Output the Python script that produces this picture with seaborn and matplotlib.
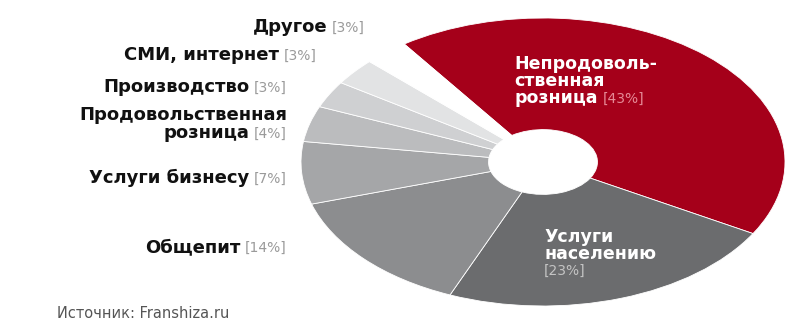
import matplotlib
matplotlib.use("Agg")
import matplotlib.pyplot as plt
import seaborn as sns

# ---- data ----
categories = ["Непродовольственная розница", "Услуги населению", "Общепит",
              "Услуги бизнесу", "Продовольственная розница", "Производство",
              "СМИ, интернет", "Другое"]
shares = [43, 23, 14, 7, 4, 3, 3, 3]
colors = ["#a5001a", "#6b6c6e", "#8c8d8f", "#a5a6a8", "#bbbcbe", "#cfd0d2",
          "#e2e3e4", "#ffffff"]
# display text (line breaks as printed)
label_lines = {
    "Непродовольственная розница": ["Непродоволь-", "ственная", "розница"],
    "Услуги населению": ["Услуги", "населению"],
    "Общепит": ["Общепит"],
    "Услуги бизнесу": ["Услуги бизнесу"],
    "Продовольственная розница": ["Продовольственная", "розница"],
    "Производство": ["Производство"],
    "СМИ, интернет": ["СМИ, интернет"],
    "Другое": ["Другое"],
}
source_text = "Источник: Franshiza.ru"

sns.set_theme(style="white")
plt.rcParams['font.family'] = ['DejaVu Sans']

W, H = 789, 322
fig = plt.figure(figsize=(W / 100, H / 100), dpi=100)
fig.patch.set_facecolor("white")

cx, cy, rx, ry = 543, 162, 242, 144
pad = 1.03
ax = fig.add_axes([(cx - rx * pad) / W, 1 - (cy + ry * pad) / H,
                   2 * rx * pad / W, 2 * ry * pad / H])
ax.pie(shares, colors=colors, startangle=125, counterclock=False, radius=1,
       wedgeprops=dict(width=0.775, edgecolor="white", linewidth=0.6))
ax.set_aspect("auto")
ax.set_xlim(-pad, pad)
ax.set_ylim(-pad, pad)
ax.axis("off")


def fx(x):
    return x / W


def fy(y):
    return 1 - y / H


fig.canvas.draw()
renderer = fig.canvas.get_renderer()

# ---- outer labels (right-aligned) ----
outer = {  # category: (right edge px, last-line baseline px)
    "Другое": (365, 32),
    "СМИ, интернет": (317, 60),
    "Производство": (287, 92),
    "Продовольственная розница": (287, 138),
    "Услуги бизнесу": (287, 183),
    "Общепит": (287, 252),
}
bold_kw = dict(fontsize=13, fontweight="black", color="#111111")
pct_kw = dict(fontsize=10, color="#9a9a9a")
outer_step = 18
for cat, (xr, yb) in outer.items():
    val = shares[categories.index(cat)]
    pt = fig.text(fx(xr), fy(yb), f"[{val}%]", ha="right", va="baseline",
                  **pct_kw)
    wpx = pt.get_window_extent(renderer).width
    lines = label_lines[cat]
    n = len(lines)
    for i, ln in enumerate(lines):
        y = yb - (n - 1 - i) * outer_step
        xa = xr - wpx - 5 if i == n - 1 else xr
        fig.text(fx(xa), fy(y), ln, ha="right", va="baseline", **bold_kw)

# ---- inner labels ----
in_kw = dict(fontsize=12.5, fontweight="bold", color="white")
# Non-food retail (red)
lines = label_lines["Непродовольственная розница"]
x0, yb, step = 514, 103, 17
for i, ln in enumerate(lines):
    t = fig.text(fx(x0), fy(yb - (len(lines) - 1 - i) * step), ln,
                 ha="left", va="baseline", **in_kw)
wl = t.get_window_extent(renderer).width
fig.text(fx(x0 + wl + 5), fy(yb), f"[{shares[0]}%]", ha="left",
         va="baseline", fontsize=10, color="#e58a96")

# Services to population (dark gray)
lines = label_lines["Услуги населению"]
x0, yb = 544, 259
for i, ln in enumerate(lines):
    fig.text(fx(x0), fy(yb - (len(lines) - 1 - i) * step), ln,
             ha="left", va="baseline", **in_kw)
fig.text(fx(x0), fy(yb + 16), f"[{shares[1]}%]", ha="left", va="baseline",
         fontsize=10, color="#c4c4c4")

# source
fig.text(fx(57), fy(313), source_text, ha="left", va="center",
         fontsize=10.5, color="#555555")

fig.savefig("out.png", dpi=100, facecolor="white")
